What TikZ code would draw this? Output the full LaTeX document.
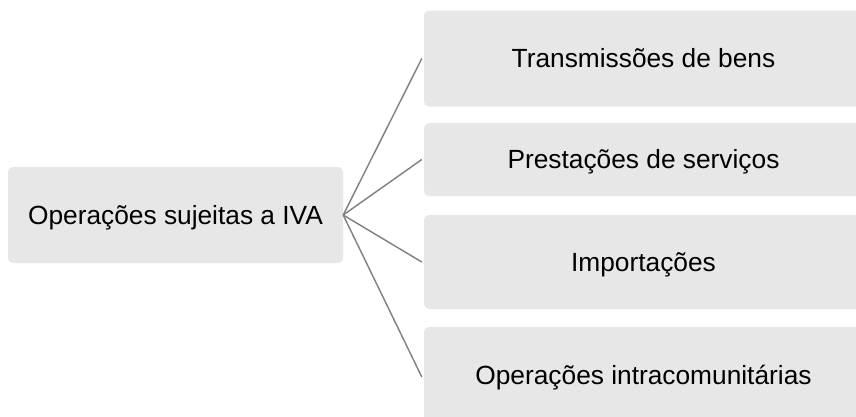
\documentclass[tikz,border=0pt]{standalone}
\usepackage{fontspec}
\setmainfont{Liberation Sans}
\definecolor{boxfill}{HTML}{E7E7E7}
\definecolor{linkgray}{HTML}{7F7F7F}
\begin{document}
\begin{tikzpicture}[x=1pt,y=-1pt,
  boxstyle/.style={fill=boxfill,rounded corners=5pt,inner sep=0pt,font=\fontsize{26.3}{30}\selectfont,text=black,text height=18.8pt,text depth=0pt},
  linkstyle/.style={draw=linkgray,line width=1.4pt}]
\useasboundingbox (0,0) rectangle (856,416);
\clip (0,0) rectangle (856,416);
\fill[white] (0,0) rectangle (856,416);
\node[boxstyle,minimum width=335pt,minimum height=96pt] (root) at (175.5,215) {Operações sujeitas a IVA};
\node[boxstyle,minimum width=439pt,minimum height=96pt] (b1) at (643.5,58.5) {Transmissões de bens};
\node[boxstyle,minimum width=439pt,minimum height=73pt] (b2) at (643.5,159.5) {Prestações de serviços};
\node[boxstyle,minimum width=439pt,minimum height=94pt] (b3) at (643.5,262) {Importações};
\node[boxstyle,minimum width=439pt,minimum height=96pt] (b4) at (643.5,375) {Operações intracomunitárias};
\draw[linkstyle] (root.east) -- ([xshift=-2pt]b1.west);
\draw[linkstyle] (root.east) -- ([xshift=-2pt]b2.west);
\draw[linkstyle] (root.east) -- ([xshift=-2pt]b3.west);
\draw[linkstyle] (root.east) -- ([xshift=-2pt,yshift=-2pt]b4.west);
\end{tikzpicture}
\end{document}
